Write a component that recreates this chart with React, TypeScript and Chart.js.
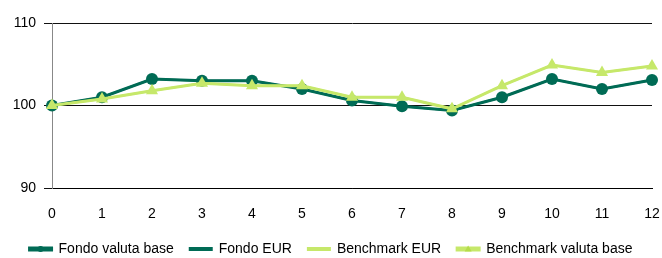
import React, { useEffect, useRef } from "react";
import { Chart, registerables } from "chart.js";

Chart.register(...registerables);

const categories = ["0", "1", "2", "3", "4", "5", "6", "7", "8", "9", "10", "11", "12"];
const fondoValutaBase = [100, 101.0, 103.2, 103.0, 103.0, 102.0, 100.6, 99.9, 99.4, 101.0, 103.2, 102.0, 103.1];
const fondoEUR = [100, 101.0, 103.2, 103.0, 103.0, 102.0, 100.6, 99.9, 99.4, 101.0, 103.2, 102.0, 103.1];
const benchmarkEUR = [100, 100.8, 101.8, 102.7, 102.4, 102.4, 101.0, 101.0, 99.6, 102.4, 104.9, 104.0, 104.8];
const benchmarkValutaBase = [100, 100.8, 101.8, 102.7, 102.4, 102.4, 101.0, 101.0, 99.6, 102.4, 104.9, 104.0, 104.8];
const seriesNames = ["Fondo valuta base", "Fondo EUR", "Benchmark EUR", "Benchmark valuta base"];
const yTicks = [90, 100, 110];

const DARK = "#006b55";
const LIGHT = "#c6e86a";
const FONT = "'Liberation Sans', Arial, sans-serif";

const legendMarkers = {
  id: "legendMarkers",
  afterDraw(chart: any) {
    const lg = chart.legend;
    if (!lg || !lg.legendHitBoxes || !lg.legendItems) return;
    const ctx = chart.ctx;
    const bw = lg.options.labels.boxWidth;
    lg.legendHitBoxes.forEach((hb: any, i: number) => {
      const item = lg.legendItems[i];
      const ds = item ? item.datasetIndex : i;
      const cx = hb.left + bw / 2;
      const cy = hb.top + hb.height / 2;
      ctx.save();
      if (ds === 0) {
        ctx.fillStyle = DARK;
        ctx.beginPath();
        ctx.arc(cx, cy, 3, 0, Math.PI * 2);
        ctx.fill();
      } else if (ds === 3) {
        ctx.fillStyle = "#b5dc4a";
        ctx.beginPath();
        ctx.moveTo(cx, cy - 3.5);
        ctx.lineTo(cx + 3.5, cy + 2.5);
        ctx.lineTo(cx - 3.5, cy + 2.5);
        ctx.closePath();
        ctx.fill();
      }
      ctx.restore();
    });
  },
};

export default function App() {
  const ref = useRef<HTMLCanvasElement>(null);
  useEffect(() => {
    if (!ref.current) return;
    const chart = new Chart(ref.current, {
      type: "line",
      data: {
        labels: categories,
        datasets: [
          {
            label: seriesNames[0],
            data: fondoValutaBase,
            borderColor: DARK,
            backgroundColor: DARK,
            borderWidth: 3,
            pointStyle: "circle",
            pointRadius: 6,
            pointBackgroundColor: DARK,
            pointBorderColor: DARK,
            pointBorderWidth: 0,
            order: 2,
          },
          {
            label: seriesNames[1],
            data: fondoEUR,
            borderColor: DARK,
            backgroundColor: DARK,
            borderWidth: 2,
            pointRadius: 0,
            order: 3,
          },
          {
            label: seriesNames[2],
            data: benchmarkEUR,
            borderColor: LIGHT,
            backgroundColor: LIGHT,
            borderWidth: 2,
            pointRadius: 0,
            order: 1,
          },
          {
            label: seriesNames[3],
            data: benchmarkValutaBase,
            borderColor: LIGHT,
            backgroundColor: LIGHT,
            borderWidth: 3,
            pointStyle: "triangle",
            pointRadius: 7,
            pointBackgroundColor: LIGHT,
            pointBorderColor: LIGHT,
            pointBorderWidth: 0,
            order: 0,
          },
        ],
      },
      options: {
        animation: false,
        responsive: true,
        maintainAspectRatio: false,
        layout: { padding: { top: 23, right: 10, left: 10, bottom: -8 } },
        plugins: {
          tooltip: { enabled: false },
          legend: {
            position: "bottom",
            labels: {
              boxWidth: 22,
              boxHeight: 2,
              padding: 16,
              color: "#000",
              font: { family: FONT, size: 14 },
              sort: (a: any, b: any) => a.datasetIndex - b.datasetIndex,
            },
          },
        },
        scales: {
          x: {
            type: "category",
            offset: false,
            grid: { display: false, drawTicks: true, tickLength: 16 },
            border: { display: true, color: "#000" },
            ticks: { color: "#000", font: { family: FONT, size: 14 }, padding: 2, maxRotation: 0, autoSkip: false },
            afterFit: (s: any) => { s.height = 38; },
          },
          y: {
            min: 90,
            max: 110,
            afterBuildTicks: (s: any) => { s.ticks = yTicks.map((v) => ({ value: v })); },
            grid: { color: "#111", lineWidth: 1, tickLength: 8, drawTicks: true },
            border: { display: true, color: "#888", width: 1 },
            ticks: { color: "#000", font: { family: FONT, size: 14 }, padding: 8 },
            afterFit: (s: any) => { s.width = 42; },
          },
        },
      },
      plugins: [legendMarkers],
    });
    return () => chart.destroy();
  }, []);
  return (
    <div style={{ position: "fixed", left: 0, top: 0, width: 662, height: 258, background: "#fff" }}>
      <canvas ref={ref} />
    </div>
  );
}
